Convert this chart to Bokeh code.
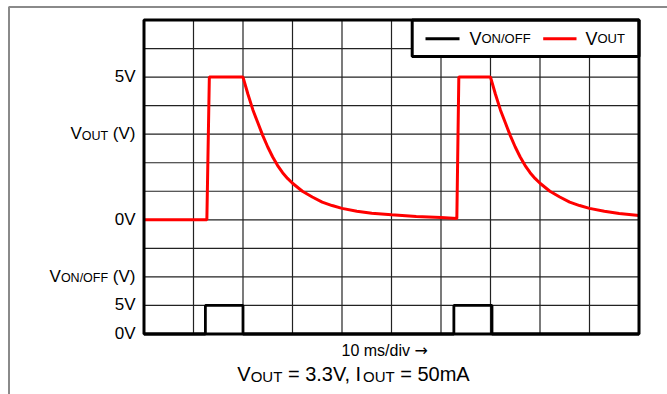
from bokeh.plotting import figure
from bokeh.models import Range1d, Label
from bokeh.core.properties import value
from bokeh.embed import file_html
from bokeh.resources import INLINE

# ---------------- data ----------------
t_vout_ms = [0, 12.7, 13.2, 20.0, 21, 22, 23, 24, 25, 26, 27, 28, 29, 30,
             32, 34, 36, 38, 40, 43, 46, 50, 55, 60, 63.2, 63.6, 70.0,
             71, 72, 73, 74, 75, 76, 77, 78, 79, 80,
             82, 84, 86, 88, 90, 93, 96, 100]
v_out = [0, 0, 5, 5, 4.4, 3.85, 3.4, 2.95, 2.55, 2.2, 1.9, 1.65, 1.45, 1.28,
         1.0, 0.8, 0.62, 0.5, 0.4, 0.3, 0.23, 0.18, 0.12, 0.08, 0.05, 5, 5,
         4.4, 3.85, 3.4, 2.95, 2.55, 2.2, 1.9, 1.65, 1.45, 1.28,
         1.0, 0.8, 0.62, 0.5, 0.4, 0.3, 0.22, 0.15]

t_von_ms = [0, 12.4, 12.4, 20.0, 20.0, 62.6, 62.6, 70.3, 70.3, 100]
v_on = [0, 0, 5, 5, 0, 0, 5, 5, 0, 0]

time_grid_ms = [10, 20, 30, 40, 50, 60, 70, 80, 90]
div_grid = [1, 2, 3, 4, 5, 6, 7, 8, 9, 10]
n_div_x, n_div_y = 100, 11          # 10 ms/div x 10 divisions, 11 vertical divisions

# left labels: (position in divisions, [(text, is_subscript), ...])
left_labels = [
    (9, [("5V", False)]),
    (7, [("V", False), ("OUT", True), (" (V)", False)]),
    (4, [("0V", False)]),
    (2, [("V", False), ("ON/OFF", True), (" (V)", False)]),
    (1, [("5V", False)]),
    (0, [("0V", False)]),
]
legend_colors = ["black", "red"]
legend_texts = [[("V", False), ("ON/OFF", True)],
                [("V", False), ("OUT", True)]]
caption = [("V", False), ("OUT", True), (" = 3.3V, I", False), ("OUT", True), (" = 50mA", False)]
x_label = "10 ms/div"
x_arrow = "\u2192"

FONT = "Liberation Sans"
ARROW_FONT = "DejaVu Sans"
BASE_FIX = 6.5          # renderer puts the alphabetic baseline lower than asked

# ---------------- layout (pixels) ----------------
PW, PH = 667, 394
L, R, T, B = 143.5, 638.5, 19.5, 333.5      # scope screen edges in pixels
sx = (R - L) / n_div_x                       # px per ms
sy = (B - T) / n_div_y                       # px per division


def px2x(px):
    return (px - L) / sx


def px2y(py):
    return (B - py) / sy


# Arial / Liberation Sans advance widths (1/1000 em)
W = {' ': 278, '(': 333, ')': 333, '/': 278, 'V': 667, 'O': 778, 'N': 722,
     'F': 611, 'U': 722, 'T': 611, 'I': 278, '=': 584, '.': 278, ',': 278,
     'm': 833, 'A': 667, 's': 500, 'd': 556, 'i': 222, 'v': 500}


def tw(s, size):
    return sum(W.get(c, 556) for c in s) / 1000.0 * size


def font_spec(name):
    try:
        Label(text="x", text_font=value(name))
        return value(name)
    except Exception:
        return name


LFONT = font_spec(FONT)
AFONT = font_spec(ARROW_FONT)

y0, y1 = px2y(PH), px2y(0)
p = figure(width=PW, height=PH, output_backend="svg", toolbar_location=None,
           x_axis_location=None, y_axis_location=None,
           x_range=Range1d(px2x(0), px2x(PW)), y_range=Range1d(y0, y1),
           min_border=0, min_border_left=0, min_border_right=0,
           min_border_top=0, min_border_bottom=0)
# VOUT: 0 V at division 4, 1 V/div ; VON/OFF: 0 V at division 0, 5 V/div
p.extra_y_ranges = {"vout": Range1d(y0 - 4, y1 - 4), "von": Range1d(y0 * 5, y1 * 5)}
p.outline_line_color = None
p.background_fill_color = "white"
p.border_fill_color = "white"
p.xgrid.visible = False
p.ygrid.visible = False

# page border (grey, top and left)
p.line([px2x(8.5), px2x(8.5), px2x(PW + 5)], [px2y(PH + 5), px2y(6.5), px2y(6.5)],
       line_color="#8a8a8a", line_width=2)

# scope graticule
p.segment(x0=time_grid_ms, x1=time_grid_ms, y0=[0] * len(time_grid_ms),
          y1=[n_div_y] * len(time_grid_ms), line_color="#222222", line_width=1.2)
p.segment(x0=[0] * len(div_grid), x1=[n_div_x] * len(div_grid), y0=div_grid,
          y1=div_grid, line_color="#222222", line_width=1.2)

p.line(t_von_ms, v_on, y_range_name="von", line_color="black", line_width=2.8)
p.line(t_vout_ms, v_out, y_range_name="vout", line_color="#ff0000", line_width=3)


def rich(x, y, parts, align, x_off, y_off, size, sub_size, sub_drop):
    total = sum(tw(t, sub_size if s else size) for t, s in parts)
    if align == "right":
        cur = x_off - total
    elif align == "center":
        cur = x_off - total / 2
    else:
        cur = x_off
    for t, s in parts:
        fs = sub_size if s else size
        lead = len(t) - len(t.lstrip(' '))
        txt = t.strip(' ')
        p.add_layout(Label(x=x, y=y, x_offset=cur + tw(' ' * lead, fs),
                           y_offset=y_off + BASE_FIX - (sub_drop if s else 0),
                           text=txt, text_font=LFONT, text_font_size=f"{fs}px",
                           text_color="black", text_align="left",
                           text_baseline="alphabetic"))
        cur += tw(t, fs)


for ypos, parts in left_labels:
    rich(0, ypos, parts, "right", -8.5, -6, 17, 12.5, 2)

# legend box
p.quad(left=[px2x(411.7)], right=[n_div_x], bottom=[px2y(56)], top=[n_div_y],
       fill_color="white", fill_alpha=1, line_color="black", line_width=3)
seg_px = [(425, 459), (542.7, 576)]
txt_px = [469, 585]
ly = px2y(38.3)
for col, parts, (a, b), tx in zip(legend_colors, legend_texts, seg_px, txt_px):
    p.line([px2x(a), px2x(b)], [ly, ly], line_color=col, line_width=3)
    rich(px2x(tx), ly, parts, "left", 0, -6.5, 18, 13, 0)

# scope screen frame
p.quad(left=[0], right=[n_div_x], bottom=[0], top=[n_div_y], fill_color=None,
       line_color="black", line_width=3)

# x label with arrow
xl_size = 16
xl_start = 341
rich(px2x(xl_start), px2y(356.5), [(x_label, False)], "left", 0, 0, xl_size, xl_size, 0)
p.add_layout(Label(x=px2x(xl_start), y=px2y(356.5),
                   x_offset=tw(x_label + " ", xl_size), y_offset=BASE_FIX,
                   text=x_arrow, text_font=AFONT, text_font_size=f"{xl_size}px",
                   text_align="left", text_baseline="alphabetic", text_color="black"))

rich(px2x(353), px2y(380), caption, "center", 0, 0.5, 20, 15, 2.5)

open("out.html", "w").write(file_html(p, INLINE))
